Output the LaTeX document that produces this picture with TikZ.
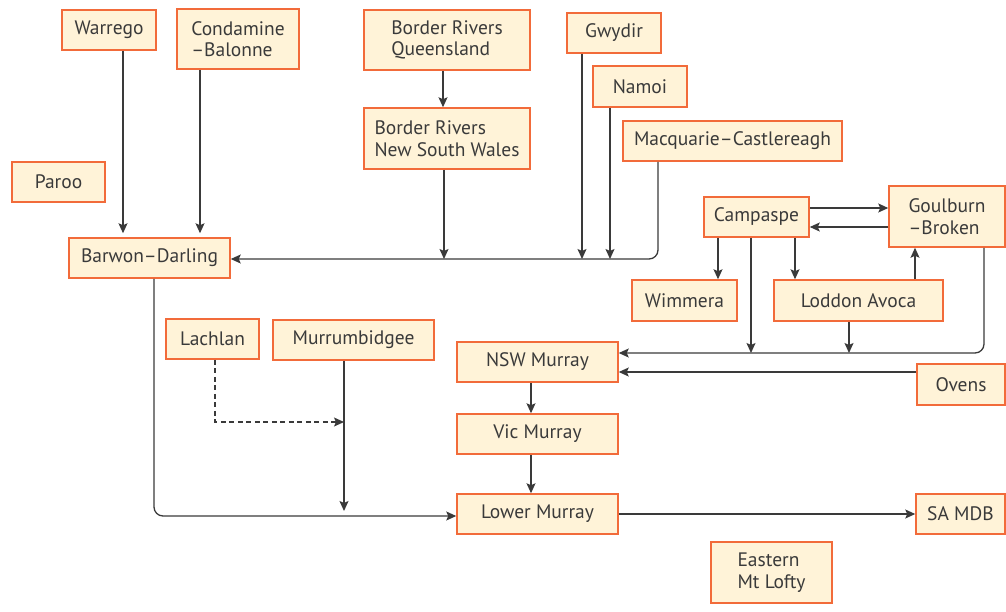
\documentclass[tikz,border=0pt]{standalone}
\usepackage{fontspec}
\setmainfont{PT Sans}
\usetikzlibrary{arrows.meta,calc}
\definecolor{boxfill}{HTML}{FFF3D8}
\definecolor{boxline}{HTML}{F26B3A}
\definecolor{ink}{HTML}{3A3A3A}
\tikzset{
  box/.style={draw=boxline, fill=boxfill, line width=1.5pt, inner sep=0pt, text=ink,
    font=\fontsize{19.5}{21.5}\selectfont},
  conn/.style={draw=ink, line width=1.3pt},
  arr/.style={conn, -{Stealth[length=10pt,width=9pt,inset=2pt]}},
  dashconn/.style={arr, dashed, dash pattern=on 5pt off 3.5pt, line width=1.1pt},
}
\newcommand{\bx}[8]{% name, x1, y1, x2, y2, align, text
  \node[box, minimum width={#4-#2}, minimum height={#5-#3}, align=#6] (#1) at ({(#2+#4)/2},{(#3+#5)/2}) {#7};}
\begin{document}
\begin{tikzpicture}[x=1pt,y=-1pt]
\useasboundingbox (0,0) rectangle (1006,611);
% boxes
\bx{warrego}{62}{10}{156}{50}{center}{Warrego}{}
\bx{condamine}{177}{9}{299}{69}{left}{Condamine\\–Balonne}{}
\bx{paroo}{12}{162}{105}{202}{center}{Paroo}{}
\bx{barwon}{69}{238}{230}{278}{center}{Barwon–Darling}{}
\bx{brq}{364}{10}{530}{70}{left}{Border Rivers\\Queensland}{}
\bx{brnsw}{364}{108}{530}{169}{left}{Border Rivers\\New South Wales}{}
\bx{gwydir}{567}{13}{661}{53}{center}{Gwydir}{}
\bx{namoi}{593}{66}{687}{107}{center}{Namoi}{}
\bx{macq}{623}{121}{842}{161}{center}{Macquarie–Castlereagh}{}
\bx{campaspe}{704}{197}{809}{237}{center}{Campaspe}{}
\bx{goulburn}{889}{186}{1005}{247}{left}{Goulburn\\–Broken}{}
\bx{wimmera}{632}{280}{737}{321}{center}{Wimmera}{}
\bx{loddon}{774}{280}{943}{321}{center}{Loddon Avoca}{}
\bx{ovens}{917}{364}{1005}{405}{center}{Ovens}{}
\bx{nswm}{457}{342}{618}{382}{center}{NSW Murray}{}
\bx{vicm}{457}{414}{618}{454}{center}{Vic Murray}{}
\bx{lowerm}{457}{494}{618}{534}{center}{Lower Murray}{}
\bx{lachlan}{166}{319}{259}{359}{center}{Lachlan}{}
\bx{murrum}{273}{320}{434}{360}{center}{Murrumbidgee}{}
\bx{samdb}{916}{494}{1005}{534}{center}{SA MDB}{}
\bx{eastern}{711}{542}{832}{603}{left}{Eastern\\Mt Lofty}{}
% junction coordinates
\coordinate (jbd) at (444,259);
\coordinate (jgw) at (582,259);
\coordinate (jna) at (610,259);
\coordinate (jca) at (751,353);
\coordinate (jlo) at (849,353);
\coordinate (jmu) at (344,422);
\coordinate (jlm) at (344,514);
% connectors: northern basin
\draw[arr, shorten >=4pt] (warrego.south -| 123,0) -- (barwon.north -| 123,0);
\draw[arr, shorten >=4pt] (condamine.south -| 200,0) -- (barwon.north -| 200,0);
\draw[arr] (brq.south -| 443,0) -- (brnsw.north -| 443,0);
\draw[arr] (brnsw.south -| jbd) -- (jbd);
\draw[arr] (gwydir.south -| jgw) -- (jgw);
\draw[arr] (namoi.south -| jna) -- (jna);
\draw[arr, rounded corners=9pt] (macq.south -| 658,0) -- (658,259) -- (barwon.east |- 0,259);
% southern
\draw[arr] (campaspe.east |- 0,208) -- (goulburn.west |- 0,208);
\draw[arr] (goulburn.west |- 0,227) -- (campaspe.east |- 0,227);
\draw[arr] (campaspe.south -| 718,0) -- (wimmera.north -| 718,0);
\draw[arr] (campaspe.south -| 795,0) -- (loddon.north -| 795,0);
\draw[arr] (campaspe.south -| jca) -- (jca);
\draw[arr] (loddon.north -| 915,0) -- (goulburn.south -| 915,0);
\draw[arr] (loddon.south -| jlo) -- (jlo);
\draw[arr, rounded corners=9pt] (goulburn.south -| 984,0) -- (984,353) -- (nswm.east |- 0,353);
\draw[arr] (ovens.west |- 0,372) -- (nswm.east |- 0,372);
\draw[arr] (nswm.south -| 531,0) -- (vicm.north -| 531,0);
\draw[arr] (vicm.south -| 531,0) -- (lowerm.north -| 531,0);
\draw[dashconn] (lachlan.south -| 215,0) -- (215,422) -- (jmu);
\draw[arr, shorten >=3pt] (murrum.south -| jmu) -- (jlm);
\draw[arr, rounded corners=9pt] (barwon.south -| 154,0) -- (154,516) -- (lowerm.west |- 0,516);
\draw[arr] (lowerm.east |- 0,514) -- (samdb.west |- 0,514);
\end{tikzpicture}
\end{document}
